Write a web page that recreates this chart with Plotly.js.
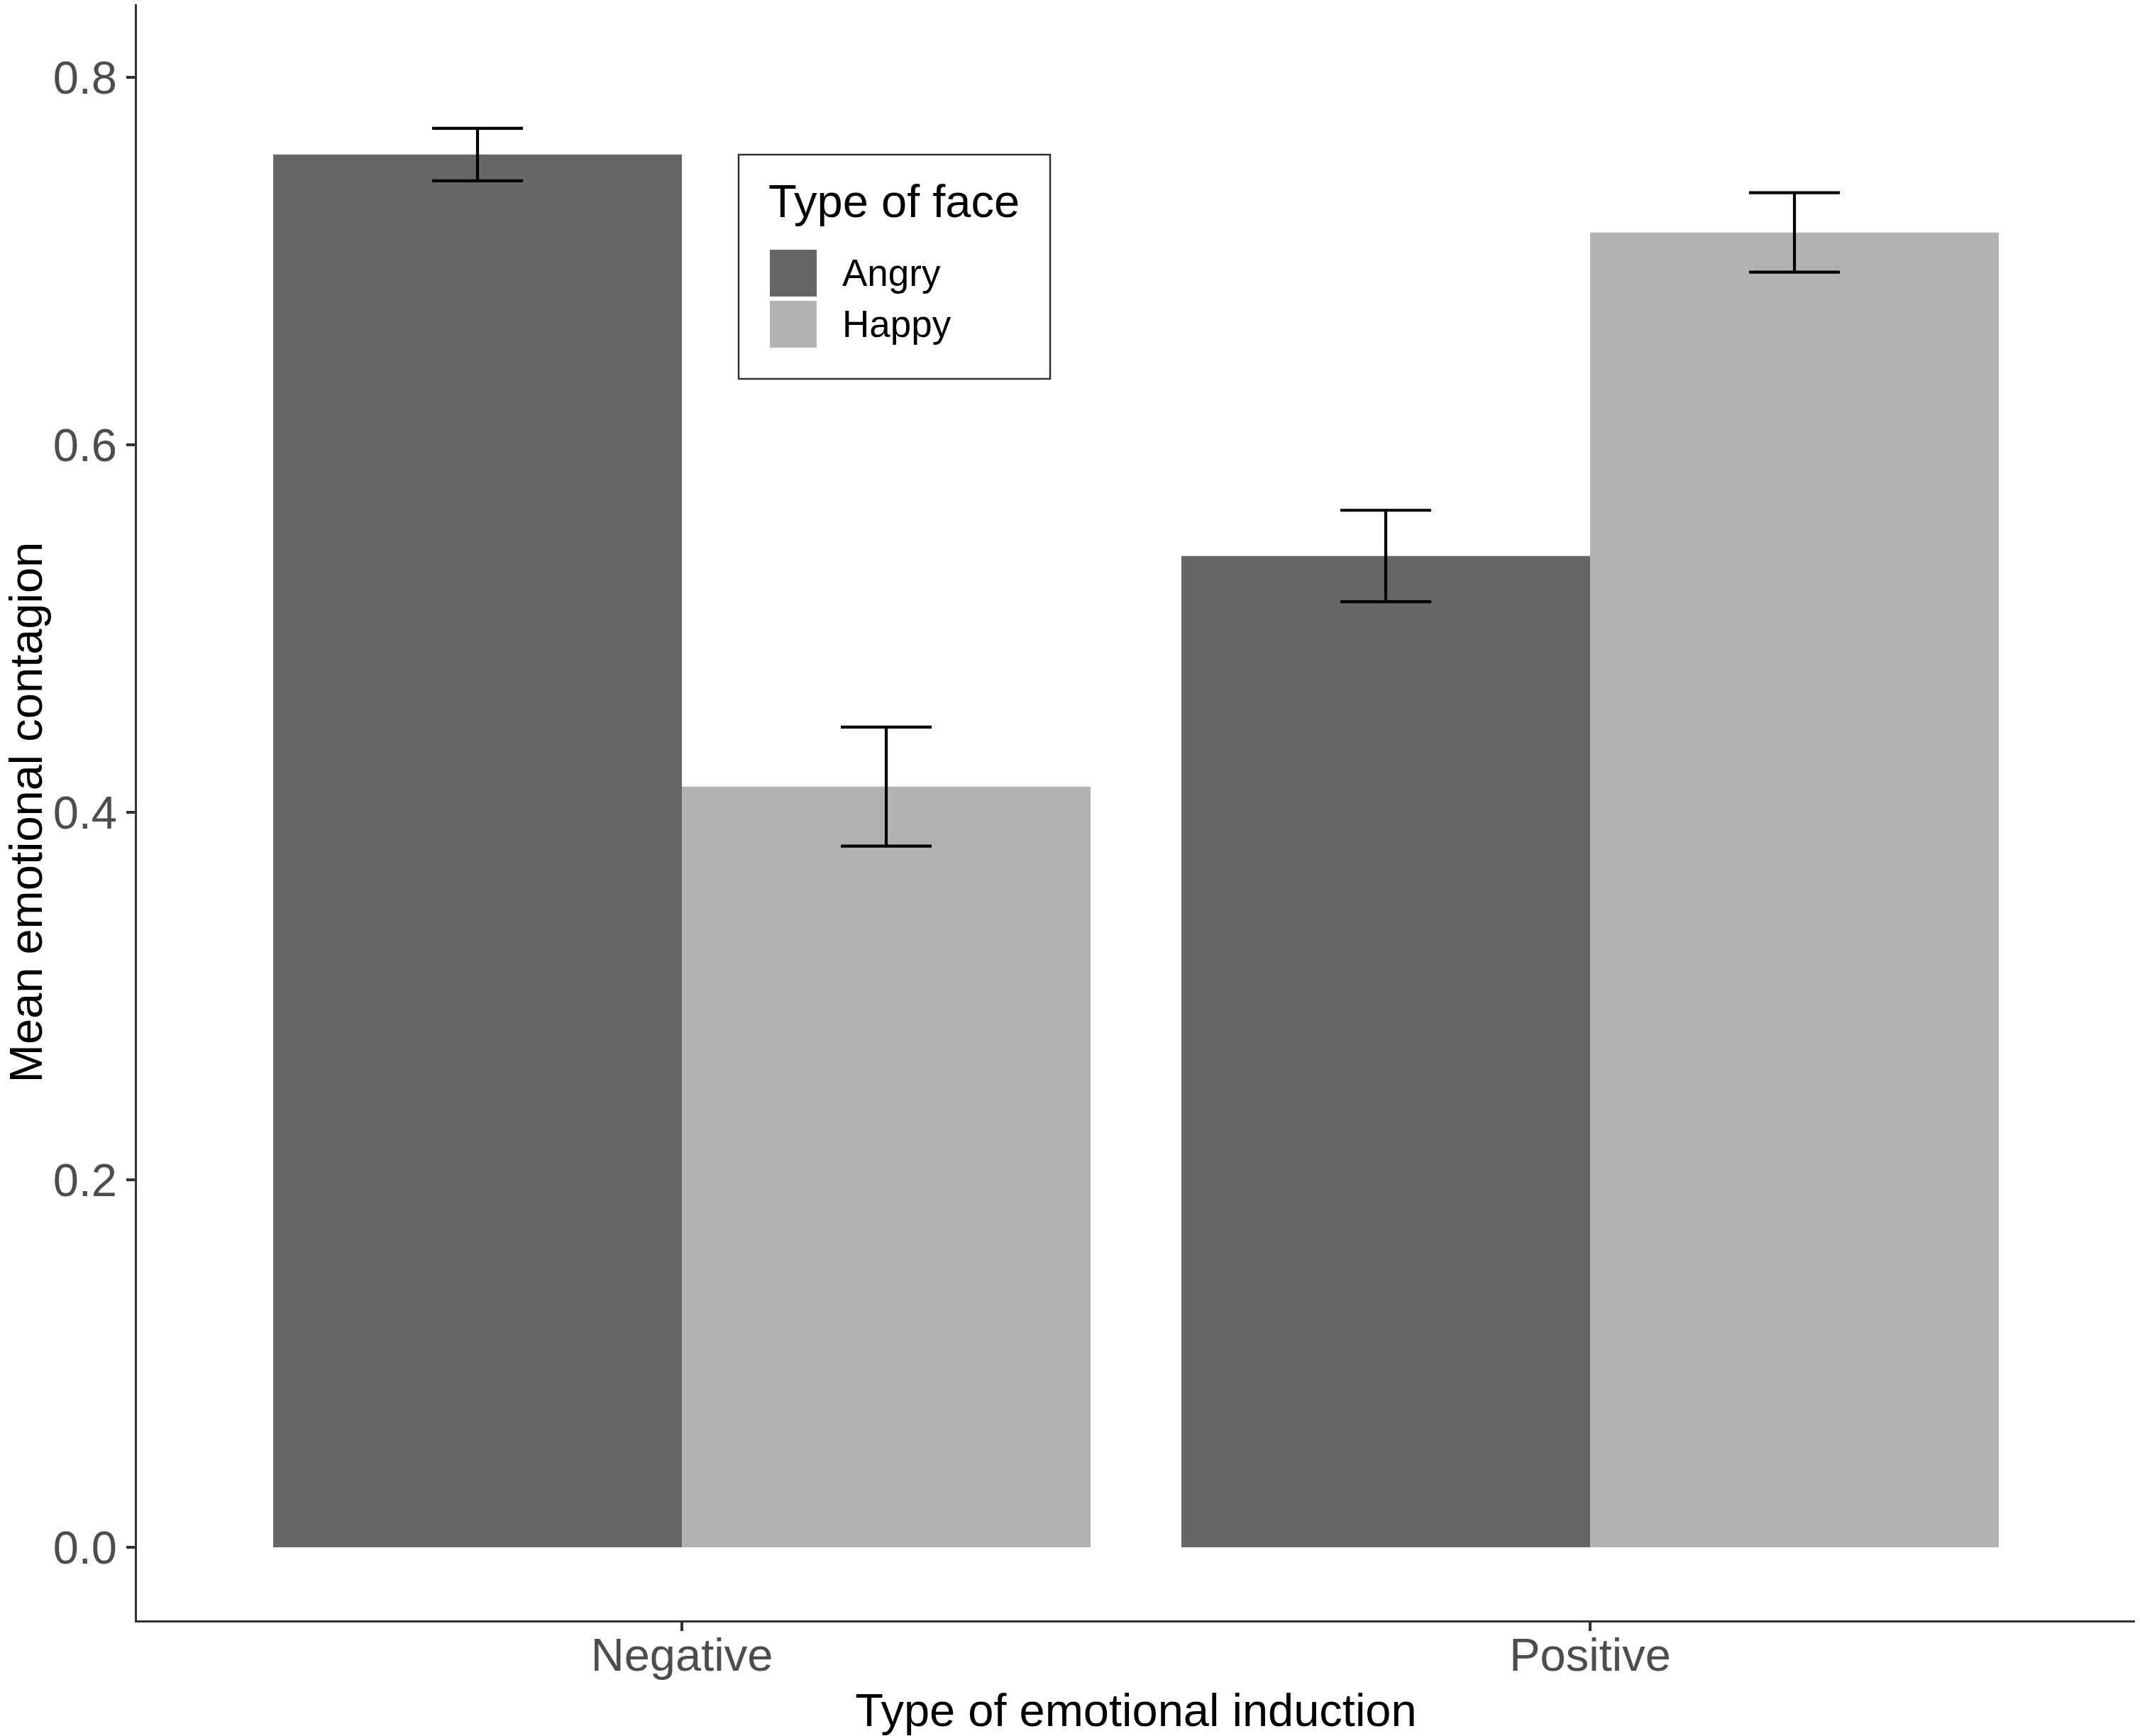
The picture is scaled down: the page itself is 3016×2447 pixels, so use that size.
<!DOCTYPE html>
<html>
<head>
<meta charset="utf-8">
<script src="https://cdn.plot.ly/plotly-3.0.1.min.js"></script>
<style>
html,body{margin:0;padding:0;background:#fff;}
#chart{width:3016px;height:2447px;}
</style>
</head>
<body>
<div id="chart"></div>
<script>
// ---- data ----
const categories = ["Negative", "Positive"];
const faceTypes = ["Angry", "Happy"];
const angryMeans = [0.758, 0.5395];
const angrySE = [0.0143, 0.0249];
const happyMeans = [0.414, 0.7156];
const happySE = [0.0324, 0.0216];
const yTickVals = [0.0, 0.2, 0.4, 0.6, 0.8];
const yTickText = ["0.0", "0.2", "0.4", "0.6", "0.8"];

const colors = {Angry: "#666666", Happy: "#b2b2b2"};
const FONT = "Liberation Sans, Arial, Helvetica, sans-serif";

// plot area in pixels
const W = 3016, H = 2447;
const L = 193, R = 3009, T = 6, B = 2284;
const px = x => (x - L) / (R - L);
const py = y => (B - y) / (B - T);

const errStyle = {type: "data", visible: true, width: 64, thickness: 4.2, color: "#000000"};

const traces = [
  {type: "bar", name: faceTypes[0], x: categories, y: angryMeans,
   marker: {color: colors.Angry, line: {width: 0}},
   error_y: Object.assign({array: angrySE}, errStyle), showlegend: false, hoverinfo: "none"},
  {type: "bar", name: faceTypes[1], x: categories, y: happyMeans,
   marker: {color: colors.Happy, line: {width: 0}},
   error_y: Object.assign({array: happySE}, errStyle), showlegend: false, hoverinfo: "none"}
];

// custom legend (ggplot-style)
const shapes = [
  {type: "rect", xref: "paper", yref: "paper", x0: px(1041), x1: px(1480), y0: py(534), y1: py(218),
   line: {color: "#333333", width: 2.5}, fillcolor: "#ffffff", layer: "above"},
  {type: "rect", xref: "paper", yref: "paper", x0: px(1085), x1: px(1151), y0: py(418), y1: py(352),
   line: {width: 0}, fillcolor: colors.Angry, layer: "above"},
  {type: "rect", xref: "paper", yref: "paper", x0: px(1085), x1: px(1151), y0: py(490), y1: py(424),
   line: {width: 0}, fillcolor: colors.Happy, layer: "above"}
];
const annotations = [
  {xref: "paper", yref: "paper", x: px(1081), y: py(322), xanchor: "left", yanchor: "bottom",
   text: "Type of face", showarrow: false, font: {family: FONT, size: 65, color: "#000"}},
  {xref: "paper", yref: "paper", x: px(1185), y: py(385), xanchor: "left", yanchor: "middle",
   text: faceTypes[0], showarrow: false, font: {family: FONT, size: 53, color: "#000"}},
  {xref: "paper", yref: "paper", x: px(1185), y: py(457), xanchor: "left", yanchor: "middle",
   text: faceTypes[1], showarrow: false, font: {family: FONT, size: 53, color: "#000"}}
];

const layout = {
  width: W, height: H,
  margin: {l: L, r: W - R, t: T, b: H - B, pad: 0},
  paper_bgcolor: "#ffffff", plot_bgcolor: "#ffffff",
  barmode: "group", bargap: 0.1, bargroupgap: 0,
  showlegend: false,
  font: {family: FONT},
  xaxis: {
    type: "category", range: [-0.6, 1.6], showgrid: false, zeroline: false,
    showline: true, linecolor: "#333333", linewidth: 3,
    ticks: "outside", ticklen: 12, tickwidth: 3.5, tickcolor: "#333333",
    ticklabelstandoff: -22,
    tickfont: {family: FONT, size: 65, color: "#4d4d4d"},
    title: {text: "Type of emotional induction", font: {family: FONT, size: 65, color: "#000"}, standoff: 30}
  },
  yaxis: {
    range: [-0.0398, 0.8398], showgrid: false, zeroline: false,
    showline: true, linecolor: "#333333", linewidth: 3,
    ticks: "outside", ticklen: 12, tickwidth: 3.5, tickcolor: "#333333",
    tickvals: yTickVals, ticktext: yTickText,
    tickfont: {family: FONT, size: 65, color: "#4d4d4d"},
    title: {text: "Mean emotional contagion", font: {family: FONT, size: 65, color: "#000"}, standoff: 30}
  },
  shapes: shapes,
  annotations: annotations
};

Plotly.newPlot("chart", traces, layout, {staticPlot: true, displayModeBar: false});
</script>
</body>
</html>
